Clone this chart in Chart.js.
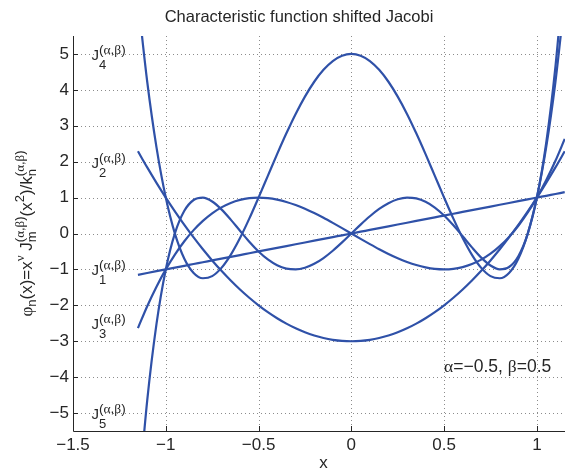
<!DOCTYPE html>
<html>
<head>
<meta charset="utf-8">
<script src="https://cdn.jsdelivr.net/npm/chart.js@4/dist/chart.umd.min.js"></script>
<style>
  html, body { margin: 0; padding: 0; background: #fff; overflow: hidden; }
  #wrap { width: 565px; height: 471px; overflow: hidden; }
</style>
</head>
<body>
<div id="wrap"><canvas id="chart" width="580" height="471"></canvas></div>
<script>
/* ---- data ---- */
const xs = [-1.15,-1.1,-1.05,-1,-0.95,-0.9,-0.85,-0.8,-0.75,-0.7,-0.65,-0.6,-0.55,-0.5,-0.45,-0.4,-0.35,-0.3,-0.25,-0.2,-0.15,-0.1,-0.05,
            0,0.05,0.1,0.15,0.2,0.25,0.3,0.35,0.4,0.45,0.5,0.55,0.6,0.65,0.7,0.75,0.8,0.85,0.9,0.95,1,1.05,1.1,1.15];

const j1 = [-1.15,-1.1,-1.05,-1,-0.95,-0.9,-0.85,-0.8,-0.75,-0.7,-0.65,-0.6,-0.55,-0.5,-0.45,-0.4,-0.35,-0.3,-0.25,-0.2,-0.15,-0.1,-0.05,
            0,0.05,0.1,0.15,0.2,0.25,0.3,0.35,0.4,0.45,0.5,0.55,0.6,0.65,0.7,0.75,0.8,0.85,0.9,0.95,1,1.05,1.1,1.15];

const j2 = [2.29,1.84,1.41,1,0.61,0.24,-0.11,-0.44,-0.75,-1.04,-1.31,-1.56,-1.79,-2,-2.19,-2.36,-2.51,-2.64,-2.75,-2.84,-2.91,-2.96,-2.99,
            -3,-2.99,-2.96,-2.91,-2.84,-2.75,-2.64,-2.51,-2.36,-2.19,-2,-1.79,-1.56,-1.31,-1.04,-0.75,-0.44,-0.11,0.24,0.61,1,1.41,1.84,2.29];

const j3 = [-2.634,-2.024,-1.481,-1,-0.58,-0.216,0.094,0.352,0.563,0.728,0.852,0.936,0.985,1,0.986,0.944,0.879,0.792,0.688,0.568,0.437,0.296,0.15,
            0,-0.15,-0.296,-0.437,-0.568,-0.688,-0.792,-0.879,-0.944,-0.986,-1,-0.985,-0.936,-0.852,-0.728,-0.563,-0.352,-0.094,0.216,0.58,1,1.481,2.024,2.634];

const j4 = [6.534,4.226,2.398,1,-0.018,-0.702,-1.098,-1.246,-1.188,-0.958,-0.594,-0.126,0.414,1,1.606,2.21,2.79,3.33,3.813,4.226,4.558,4.802,4.95,
            5,4.95,4.802,4.558,4.226,3.813,3.33,2.79,2.21,1.606,1,0.414,-0.126,-0.594,-0.958,-1.188,-1.246,-1.098,-0.702,-0.018,1,2.398,4.226,6.534];

const j5 = [-7.514,-4.648,-2.518,-1,0.017,0.632,0.933,0.997,0.891,0.671,0.386,0.076,-0.228,-0.5,-0.723,-0.884,-0.977,-0.999,-0.953,-0.845,-0.684,-0.48,-0.248,
            0,0.248,0.48,0.684,0.845,0.953,0.999,0.977,0.884,0.723,0.5,0.228,-0.076,-0.386,-0.671,-0.891,-0.997,-0.933,-0.632,-0.017,1,2.518,4.648,7.514];

const xTicks = [-1.5, -1, -0.5, 0, 0.5, 1];
const yTicks = [-5, -4, -3, -2, -1, 0, 1, 2, 3, 4, 5];

/* curve labels on the left: index n and the y value they sit at */
const labelN = ['4', '2', '1', '3', '5'];
const labelY = [5, 2, -1, -2.5, -5];
const labelX = -1.4;

const titleText = 'Characteristic function shifted Jacobi';
const paramText = 'α=−0.5, β=0.5';
const paramAt   = [0.5, -3.85];

/* ---- styles ---- */
const LINE  = '#2f51a8';
const INK   = '#262626';
const SANS  = '"Liberation Sans", Arial, sans-serif';
const SERIF = '"Liberation Serif", "Times New Roman", serif';
const GREEK = /[αβνφ]/;

/* text pieces: [text, size, dy, stackWithNext] */
function pieceWidth(ctx, p) {
  let w = 0;
  for (const ch of p[0]) {
    ctx.font = p[1] + 'px ' + (GREEK.test(ch) ? SERIF : SANS);
    w += ctx.measureText(ch).width;
  }
  return w;
}
function richWidth(ctx, pieces) {
  let w = 0;
  for (let i = 0; i < pieces.length; i++) {
    const p = pieces[i];
    if (p[3]) { w += Math.max(pieceWidth(ctx, p), pieceWidth(ctx, pieces[i + 1])); i++; }
    else w += pieceWidth(ctx, p);
  }
  return w;
}
function drawPiece(ctx, p, x, y) {
  for (const ch of p[0]) {
    ctx.font = p[1] + 'px ' + (GREEK.test(ch) ? SERIF : SANS);
    ctx.fillText(ch, x, y + p[2]);
    x += ctx.measureText(ch).width;
  }
  return x;
}
function drawRich(ctx, pieces, x, y) {
  ctx.textAlign = 'left';
  ctx.textBaseline = 'alphabetic';
  for (let i = 0; i < pieces.length; i++) {
    const p = pieces[i];
    if (p[3]) {
      const a = drawPiece(ctx, p, x, y);
      const b = drawPiece(ctx, pieces[i + 1], x, y);
      x = Math.max(a, b); i++;
    } else {
      x = drawPiece(ctx, p, x, y);
    }
  }
  return x;
}

const decor = {
  id: 'decor',
  beforeDatasetsDraw(chart) {
    const { ctx, chartArea: a, scales: { x, y } } = chart;
    ctx.save();
    ctx.strokeStyle = 'rgba(0,0,0,0.45)';
    ctx.lineWidth = 1;
    ctx.setLineDash([1, 3]);
    xTicks.forEach(v => {
      if (v === xTicks[0]) return;
      const px = Math.round(x.getPixelForValue(v)) + 0.5;
      ctx.beginPath(); ctx.moveTo(px, a.top); ctx.lineTo(px, a.bottom); ctx.stroke();
    });
    yTicks.forEach(v => {
      const py = Math.round(y.getPixelForValue(v)) + 0.5;
      ctx.beginPath(); ctx.moveTo(a.left, py); ctx.lineTo(a.right, py); ctx.stroke();
    });
    ctx.restore();
  },
  afterDatasetsDraw(chart) {
    const { ctx, chartArea: a, scales: { x, y } } = chart;
    ctx.save();
    ctx.strokeStyle = INK;
    ctx.lineWidth = 1;
    ctx.beginPath();
    ctx.moveTo(a.left + 0.5, a.top); ctx.lineTo(a.left + 0.5, a.bottom + 0.5);
    ctx.lineTo(a.right, a.bottom + 0.5);
    ctx.stroke();
    ctx.beginPath();
    xTicks.forEach(v => {
      const px = Math.round(x.getPixelForValue(v)) + 0.5;
      ctx.moveTo(px, a.bottom); ctx.lineTo(px, a.bottom - 5);
    });
    yTicks.forEach(v => {
      const py = Math.round(y.getPixelForValue(v)) + 0.5;
      ctx.moveTo(a.left, py); ctx.lineTo(a.left + 5, py);
    });
    ctx.stroke();

    ctx.fillStyle = INK;
    /* title */
    ctx.font = '16.5px ' + SANS;
    ctx.textAlign = 'center';
    ctx.textBaseline = 'alphabetic';
    ctx.fillText(titleText, 299, 22);
    /* x label */
    ctx.font = '17px ' + SANS;
    ctx.fillText('x', (a.left + a.right) / 2, 468);

    /* curve labels */
    const lx = x.getPixelForValue(labelX);
    labelN.forEach((n, i) => {
      const base = y.getPixelForValue(labelY[i]) + 6;
      drawRich(ctx, [['J', 15, 0], ['(α,β)', 13.5, -6, true], [n, 13, 9]], lx, base);
    });

    /* parameters */
    drawRich(ctx, [[paramText, 17.5, 0]], x.getPixelForValue(paramAt[0]), y.getPixelForValue(paramAt[1]));

    /* y label, rotated */
    const yl = [
      ['φ', 17, 0], ['n', 13, 4],
      ['(x)=x', 17, 0], ['ν', 13, -8],
      [' J', 17, 0], ['(α,β)', 13, -8, true], ['m', 13, 4],
      ['(x', 17, 0], ['2', 13, -8],
      [')/k', 17, 0], ['(α,β)', 13, -8, true], ['n', 13, 4]
    ];
    ctx.translate(32, (a.top + a.bottom) / 2);
    ctx.rotate(-Math.PI / 2);
    drawRich(ctx, yl, -richWidth(ctx, yl) / 2, 0);
    ctx.restore();
  }
};

const series = [j1, j2, j3, j4, j5];

new Chart(document.getElementById('chart'), {
  type: 'line',
  data: {
    datasets: series.map((s, i) => ({
      label: 'J' + (i + 1),
      data: xs.map((v, k) => ({ x: v, y: s[k] })),
      borderColor: LINE,
      borderWidth: 2.2,
      pointRadius: 0,
      fill: false,
      cubicInterpolationMode: 'monotone'
    }))
  },
  options: {
    responsive: false,
    animation: false,
    events: [],
    layout: { padding: { top: 36, right: 6, left: 0, bottom: 0 } },
    plugins: { legend: { display: false }, title: { display: false }, tooltip: { enabled: false } },
    scales: {
      x: {
        type: 'linear',
        min: -1.5, max: 1.2,
        afterFit: s => { s.height = 40; },
        afterBuildTicks: s => { s.ticks = xTicks.map(v => ({ value: v })); },
        grid: { display: false, drawTicks: false },
        border: { display: false },
        ticks: {
          padding: 4,
          color: INK,
          font: { family: SANS, size: 17 },
          callback: v => String(v).replace('-', '−')
        }
      },
      y: {
        type: 'linear',
        min: -5.5, max: 5.5,
        afterFit: s => { s.width = 73; },
        afterBuildTicks: s => { s.ticks = yTicks.map(v => ({ value: v })); },
        grid: { display: false, drawTicks: false },
        border: { display: false },
        ticks: {
          padding: 4,
          color: INK,
          font: { family: SANS, size: 17 },
          callback: v => String(v).replace('-', '−')
        }
      }
    }
  },
  plugins: [decor]
});
</script>
</body>
</html>
